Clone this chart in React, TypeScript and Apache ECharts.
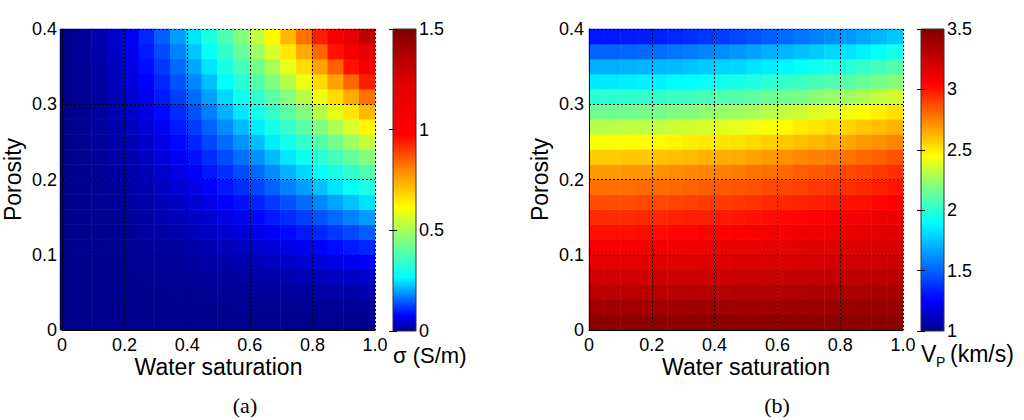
import React, { useEffect, useRef } from 'react';
import * as echarts from 'echarts';

// ---- categories (cell centres) ----
const waterSaturation = ['0.025','0.075','0.125','0.175','0.225','0.275','0.325','0.375','0.425','0.475','0.525','0.575','0.625','0.675','0.725','0.775','0.825','0.875','0.925','0.975'];
const porosity = ['0.01','0.03','0.05','0.07','0.09','0.11','0.13','0.15','0.17','0.19','0.21','0.23','0.25','0.27','0.29','0.31','0.33','0.35','0.37','0.39'];

// ---- tick labels ----
const xTickLabels = ['0', '0.2', '0.4', '0.6', '0.8', '1.0'];
const yTickLabels = ['0', '0.1', '0.2', '0.3', '0.4'];
const sigmaTickLabels = ['0', '0.5', '1', '1.5'];
const vpTickLabels = ['1', '1.5', '2', '2.5', '3', '3.5'];

// ---- conductivity sigma (S/m); rows = porosity (bottom to top), cols = water saturation ----
const sigma: number[][] = [
  [0,0,0,0,0,0,0,0,0,0,0,0,0,0,0,0.001,0.001,0.001,0.001,0.001],
  [0,0,0,0,0,0.001,0.001,0.001,0.001,0.002,0.002,0.003,0.003,0.004,0.004,0.005,0.006,0.006,0.007,0.008],
  [0,0,0,0.001,0.001,0.002,0.002,0.003,0.004,0.005,0.006,0.007,0.009,0.010,0.012,0.014,0.015,0.017,0.019,0.022],
  [0,0,0.001,0.001,0.002,0.003,0.005,0.006,0.008,0.010,0.012,0.015,0.017,0.020,0.023,0.027,0.030,0.034,0.038,0.042],
  [0,0,0.001,0.002,0.004,0.006,0.008,0.010,0.013,0.017,0.020,0.024,0.029,0.033,0.039,0.044,0.050,0.056,0.063,0.070],
  [0,0.001,0.002,0.003,0.006,0.008,0.012,0.015,0.020,0.025,0.030,0.036,0.043,0.050,0.058,0.066,0.075,0.084,0.094,0.104],
  [0,0.001,0.002,0.005,0.008,0.012,0.016,0.022,0.028,0.035,0.042,0.051,0.060,0.070,0.081,0.092,0.104,0.117,0.131,0.146],
  [0,0.001,0.003,0.006,0.010,0.015,0.022,0.029,0.037,0.046,0.056,0.067,0.080,0.093,0.107,0.122,0.139,0.156,0.174,0.194],
  [0,0.001,0.004,0.008,0.013,0.020,0.028,0.037,0.047,0.059,0.072,0.087,0.102,0.119,0.138,0.157,0.178,0.201,0.224,0.249],
  [0,0.002,0.005,0.010,0.017,0.025,0.035,0.046,0.059,0.074,0.090,0.108,0.128,0.149,0.172,0.196,0.223,0.250,0.280,0.311],
  [0,0.002,0.006,0.012,0.020,0.030,0.042,0.056,0.072,0.090,0.110,0.132,0.156,0.182,0.210,0.240,0.272,0.306,0.342,0.380],
  [0,0.003,0.007,0.015,0.024,0.036,0.051,0.067,0.087,0.108,0.132,0.159,0.187,0.218,0.252,0.288,0.326,0.367,0.410,0.456],
  [0,0.003,0.009,0.017,0.029,0.043,0.060,0.080,0.102,0.128,0.156,0.187,0.221,0.258,0.298,0.340,0.386,0.434,0.485,0.538],
  [0,0.004,0.010,0.020,0.033,0.050,0.070,0.093,0.119,0.149,0.182,0.218,0.258,0.301,0.347,0.397,0.450,0.506,0.565,0.628],
  [0,0.004,0.012,0.023,0.039,0.058,0.081,0.107,0.138,0.172,0.210,0.252,0.298,0.347,0.401,0.458,0.519,0.584,0.652,0.725],
  [0.001,0.005,0.014,0.027,0.044,0.066,0.092,0.122,0.157,0.196,0.240,0.288,0.340,0.397,0.458,0.523,0.593,0.667,0.745,0.828],
  [0.001,0.006,0.015,0.030,0.050,0.075,0.104,0.139,0.178,0.223,0.272,0.326,0.386,0.450,0.519,0.593,0.672,0.756,0.844,0.938],
  [0.001,0.006,0.017,0.034,0.056,0.084,0.117,0.156,0.201,0.250,0.306,0.367,0.434,0.506,0.584,0.667,0.756,0.850,0.950,1.055],
  [0.001,0.007,0.019,0.038,0.063,0.094,0.131,0.174,0.224,0.280,0.342,0.410,0.485,0.565,0.652,0.745,0.844,0.950,1.062,1.179],
  [0.001,0.008,0.022,0.042,0.070,0.104,0.146,0.194,0.249,0.311,0.380,0.456,0.538,0.628,0.725,0.828,0.938,1.055,1.179,1.310],
];

// ---- P-wave velocity (km/s); rows = porosity (bottom to top), cols = water saturation ----
const vp: number[][] = [
  [3.45,3.45,3.45,3.45,3.45,3.45,3.45,3.45,3.45,3.45,3.45,3.45,3.46,3.46,3.46,3.46,3.46,3.46,3.46,3.46],
  [3.38,3.38,3.38,3.38,3.38,3.38,3.39,3.39,3.39,3.39,3.39,3.39,3.40,3.40,3.40,3.40,3.41,3.41,3.41,3.42],
  [3.30,3.30,3.30,3.30,3.30,3.31,3.31,3.31,3.31,3.32,3.32,3.33,3.33,3.33,3.34,3.34,3.35,3.35,3.36,3.36],
  [3.22,3.22,3.22,3.22,3.23,3.23,3.23,3.24,3.24,3.24,3.25,3.25,3.26,3.26,3.27,3.27,3.28,3.29,3.29,3.30],
  [3.15,3.15,3.15,3.15,3.16,3.16,3.16,3.17,3.17,3.18,3.18,3.19,3.19,3.20,3.20,3.21,3.22,3.22,3.23,3.24],
  [3.09,3.09,3.09,3.09,3.10,3.10,3.11,3.11,3.12,3.12,3.13,3.14,3.14,3.15,3.16,3.16,3.17,3.18,3.19,3.20],
  [3.02,3.02,3.02,3.03,3.03,3.04,3.04,3.05,3.05,3.06,3.07,3.08,3.09,3.10,3.10,3.11,3.12,3.14,3.15,3.16],
  [2.95,2.95,2.95,2.96,2.96,2.97,2.98,2.98,2.99,3.00,3.01,3.02,3.03,3.04,3.06,3.07,3.08,3.09,3.11,3.12],
  [2.87,2.87,2.87,2.88,2.88,2.89,2.90,2.91,2.91,2.92,2.93,2.95,2.96,2.97,2.98,2.99,3.01,3.02,3.04,3.05],
  [2.79,2.79,2.79,2.80,2.80,2.81,2.82,2.83,2.84,2.85,2.86,2.88,2.89,2.90,2.92,2.93,2.94,2.96,2.98,3.00],
  [2.69,2.69,2.70,2.70,2.71,2.72,2.73,2.74,2.75,2.76,2.78,2.79,2.81,2.83,2.84,2.86,2.88,2.90,2.92,2.94],
  [2.57,2.57,2.58,2.58,2.59,2.60,2.61,2.63,2.64,2.65,2.67,2.69,2.71,2.73,2.75,2.76,2.78,2.81,2.83,2.86],
  [2.44,2.44,2.45,2.45,2.46,2.47,2.49,2.50,2.51,2.52,2.54,2.56,2.58,2.60,2.62,2.64,2.66,2.69,2.71,2.74],
  [2.31,2.31,2.32,2.32,2.33,2.35,2.36,2.37,2.39,2.40,2.42,2.44,2.46,2.49,2.51,2.53,2.55,2.58,2.60,2.63],
  [2.16,2.16,2.17,2.18,2.18,2.20,2.21,2.23,2.25,2.26,2.28,2.31,2.33,2.35,2.38,2.40,2.42,2.45,2.49,2.52],
  [2.00,2.00,2.01,2.02,2.02,2.04,2.05,2.07,2.09,2.10,2.12,2.15,2.17,2.19,2.22,2.24,2.26,2.29,2.33,2.36],
  [1.85,1.85,1.86,1.87,1.87,1.89,1.90,1.92,1.94,1.95,1.97,2.00,2.02,2.04,2.07,2.09,2.11,2.14,2.18,2.21],
  [1.69,1.69,1.70,1.71,1.72,1.73,1.75,1.77,1.79,1.80,1.83,1.86,1.88,1.91,1.94,1.96,1.99,2.02,2.06,2.09],
  [1.50,1.50,1.51,1.52,1.53,1.55,1.57,1.59,1.61,1.63,1.66,1.69,1.71,1.74,1.77,1.80,1.83,1.87,1.91,1.95],
  [1.30,1.30,1.31,1.32,1.33,1.35,1.37,1.39,1.41,1.43,1.46,1.49,1.52,1.55,1.58,1.61,1.64,1.68,1.72,1.76],
];

const SIGMA_RANGE = [0, 1.5];
const VP_RANGE = [1, 3.5];

// colormap stops (fraction of colour bar, colour)
const sigmaStops: [number, string][] = [
  [0, '#00008c'], [0.05, '#0000ff'], [0.18, '#00ffff'], [0.30, '#80ff80'],
  [0.41, '#ffff00'], [0.54, '#ff8000'], [0.65, '#ff0000'], [0.82, '#e00000'], [1, '#800000'],
];
const vpStops: [number, string][] = [
  [0, '#00008c'], [0.1, '#0000ff'], [0.36, '#00ffff'], [0.48, '#80ff80'],
  [0.58, '#ffff00'], [0.70, '#ff8000'], [0.82, '#ff0000'], [1, '#800000'],
];

function hexToRgb(h: string) {
  const n = parseInt(h.slice(1), 16);
  return [(n >> 16) & 255, (n >> 8) & 255, n & 255];
}
function sampleColors(stops: [number, string][], n: number): string[] {
  const out: string[] = [];
  for (let i = 0; i < n; i++) {
    const t = i / (n - 1);
    let k = 0;
    while (k < stops.length - 2 && t > stops[k + 1][0]) k++;
    const [t0, c0] = stops[k];
    const [t1, c1] = stops[k + 1];
    const f = Math.min(1, Math.max(0, (t - t0) / (t1 - t0)));
    const a = hexToRgb(c0), b = hexToRgb(c1);
    const c = a.map((v, j) => Math.round(v + (b[j] - v) * f));
    out.push(`rgb(${c[0]},${c[1]},${c[2]})`);
  }
  return out;
}

const FONT = '"Liberation Sans", Arial, sans-serif';
const SERIF = '"Liberation Serif", "Times New Roman", serif';

const L = { left: 60, top: 29, width: 315, height: 301 };
const R = { left: 589, top: 29, width: 314, height: 301 };
const CBL = { left: 393, top: 29, width: 23, height: 302 };
const CBR = { left: 921, top: 29, width: 23, height: 302 };

function cells(m: number[][]) {
  const out: number[][] = [];
  m.forEach((row, k) => row.forEach((v, j) => out.push([j, k, v])));
  return out;
}

function catX(gridIndex: number) {
  return { type: 'category', gridIndex, data: waterSaturation, show: false };
}
function catY(gridIndex: number) {
  return { type: 'category', gridIndex, data: porosity, show: false };
}
const dotted = { color: '#000', type: [2, 2], width: 1 };
function valX(gridIndex: number) {
  return {
    type: 'value', gridIndex, min: 0, max: 1, interval: 0.2, z: 10,
    axisLine: { show: true, onZero: false, lineStyle: { color: '#000', width: 1 } },
    axisTick: { show: false },
    axisLabel: { margin: 6, fontSize: 18, color: '#000', fontFamily: FONT,
      formatter: (v: number) => xTickLabels[Math.round(v / 0.2)] },
    splitLine: { show: true, showMinLine: true, showMaxLine: true, lineStyle: dotted },
    name: 'Water saturation', nameLocation: 'middle', nameGap: 25, nameMoveOverlap: false,
    nameTextStyle: { fontSize: 23, color: '#000', fontFamily: FONT },
  };
}
function valY(gridIndex: number) {
  return {
    type: 'value', gridIndex, min: 0, max: 0.4, interval: 0.1, z: 10,
    axisLine: { show: true, onZero: false, lineStyle: { color: '#000', width: 1 } },
    axisTick: { show: false },
    axisLabel: { margin: 5, fontSize: 18, color: '#000', fontFamily: FONT,
      formatter: (v: number) => yTickLabels[Math.round(v / 0.1)] },
    splitLine: { show: true, showMinLine: true, showMaxLine: true, lineStyle: dotted },
    name: 'Porosity', nameLocation: 'middle', nameGap: 38,
    nameTextStyle: { fontSize: 23, color: '#000', fontFamily: FONT },
  };
}
function cbX(gridIndex: number) {
  return { type: 'value', gridIndex, show: false, min: 0, max: 1 };
}
function cbY(gridIndex: number, range: number[], labels: string[], position: 'left' | 'right') {
  const step = (range[1] - range[0]) / (labels.length - 1);
  return {
    type: 'value', gridIndex, position, min: range[0], max: range[1], interval: step, z: 10,
    axisLine: { show: false },
    axisTick: { show: true, inside: true, length: 4, lineStyle: { color: '#000' } },
    axisLabel: { show: position === 'right', margin: 3, fontSize: 18, color: '#000', fontFamily: FONT,
      formatter: (v: number) => labels[Math.round((v - range[0]) / step)] },
    splitLine: { show: false },
  };
}
function colorBar(box: { left: number; top: number; width: number; height: number }, stops: [number, string][]) {
  return {
    type: 'rect', z: 1,
    shape: { x: box.left, y: box.top, width: box.width, height: box.height },
    style: {
      fill: new echarts.graphic.LinearGradient(0, 1, 0, 0, stops.map(([o, c]) => ({ offset: o, color: c }))),
      stroke: '#333', lineWidth: 1,
    },
  };
}
function label(x: number, y: number, text: string, size: number, family = FONT, align = 'left') {
  return {
    type: 'text', z: 20, x, y,
    style: { text, fill: '#000', font: `${size}px ${family}`, align, verticalAlign: 'middle',
      textAlign: align, textVerticalAlign: 'middle' },
  };
}

export default function App() {
  const ref = useRef<HTMLDivElement>(null);
  useEffect(() => {
    if (!ref.current) return;
    const chart = echarts.init(ref.current, undefined, { renderer: 'svg' });
    chart.setOption({
      animation: false,
      backgroundColor: '#fff',
      grid: [
        { ...L, containLabel: false },
        { ...L, containLabel: false },
        { ...CBL, containLabel: false },
        { ...R, containLabel: false },
        { ...R, containLabel: false },
        { ...CBR, containLabel: false },
      ],
      xAxis: [catX(0), valX(1), cbX(2), catX(3), valX(4), cbX(5)],
      yAxis: [
        catY(0), valY(1), cbY(2, SIGMA_RANGE, sigmaTickLabels, 'right'), cbY(2, SIGMA_RANGE, sigmaTickLabels, 'left'),
        catY(3), valY(4), cbY(5, VP_RANGE, vpTickLabels, 'right'), cbY(5, VP_RANGE, vpTickLabels, 'left'),
      ],
      visualMap: [
        { type: 'continuous', show: false, seriesIndex: 0, min: SIGMA_RANGE[0], max: SIGMA_RANGE[1],
          inRange: { color: sampleColors(sigmaStops, 101) } },
        { type: 'continuous', show: false, seriesIndex: 1, min: VP_RANGE[0], max: VP_RANGE[1],
          inRange: { color: sampleColors(vpStops, 101) } },
      ],
      series: [
        { type: 'heatmap', xAxisIndex: 0, yAxisIndex: 0, data: cells(sigma), emphasis: { disabled: true }, progressive: 0 },
        { type: 'heatmap', xAxisIndex: 3, yAxisIndex: 4, data: cells(vp), emphasis: { disabled: true }, progressive: 0 },
      ],
      graphic: [
        colorBar(CBL, sigmaStops),
        colorBar(CBR, vpStops),
        label(393, 355, 'σ (S/m)', 22),
        label(921, 354, 'V', 23),
        label(936, 362, 'P', 14),
        label(950, 354, '(km/s)', 23),
        label(245, 405, '(a)', 22, SERIF, 'center'),
        label(777, 405, '(b)', 22, SERIF, 'center'),
      ],
    });
    return () => chart.dispose();
  }, []);
  return <div ref={ref} style={{ position: 'absolute', left: 0, top: 0, width: 1024, height: 420, background: '#fff' }} />;
}
